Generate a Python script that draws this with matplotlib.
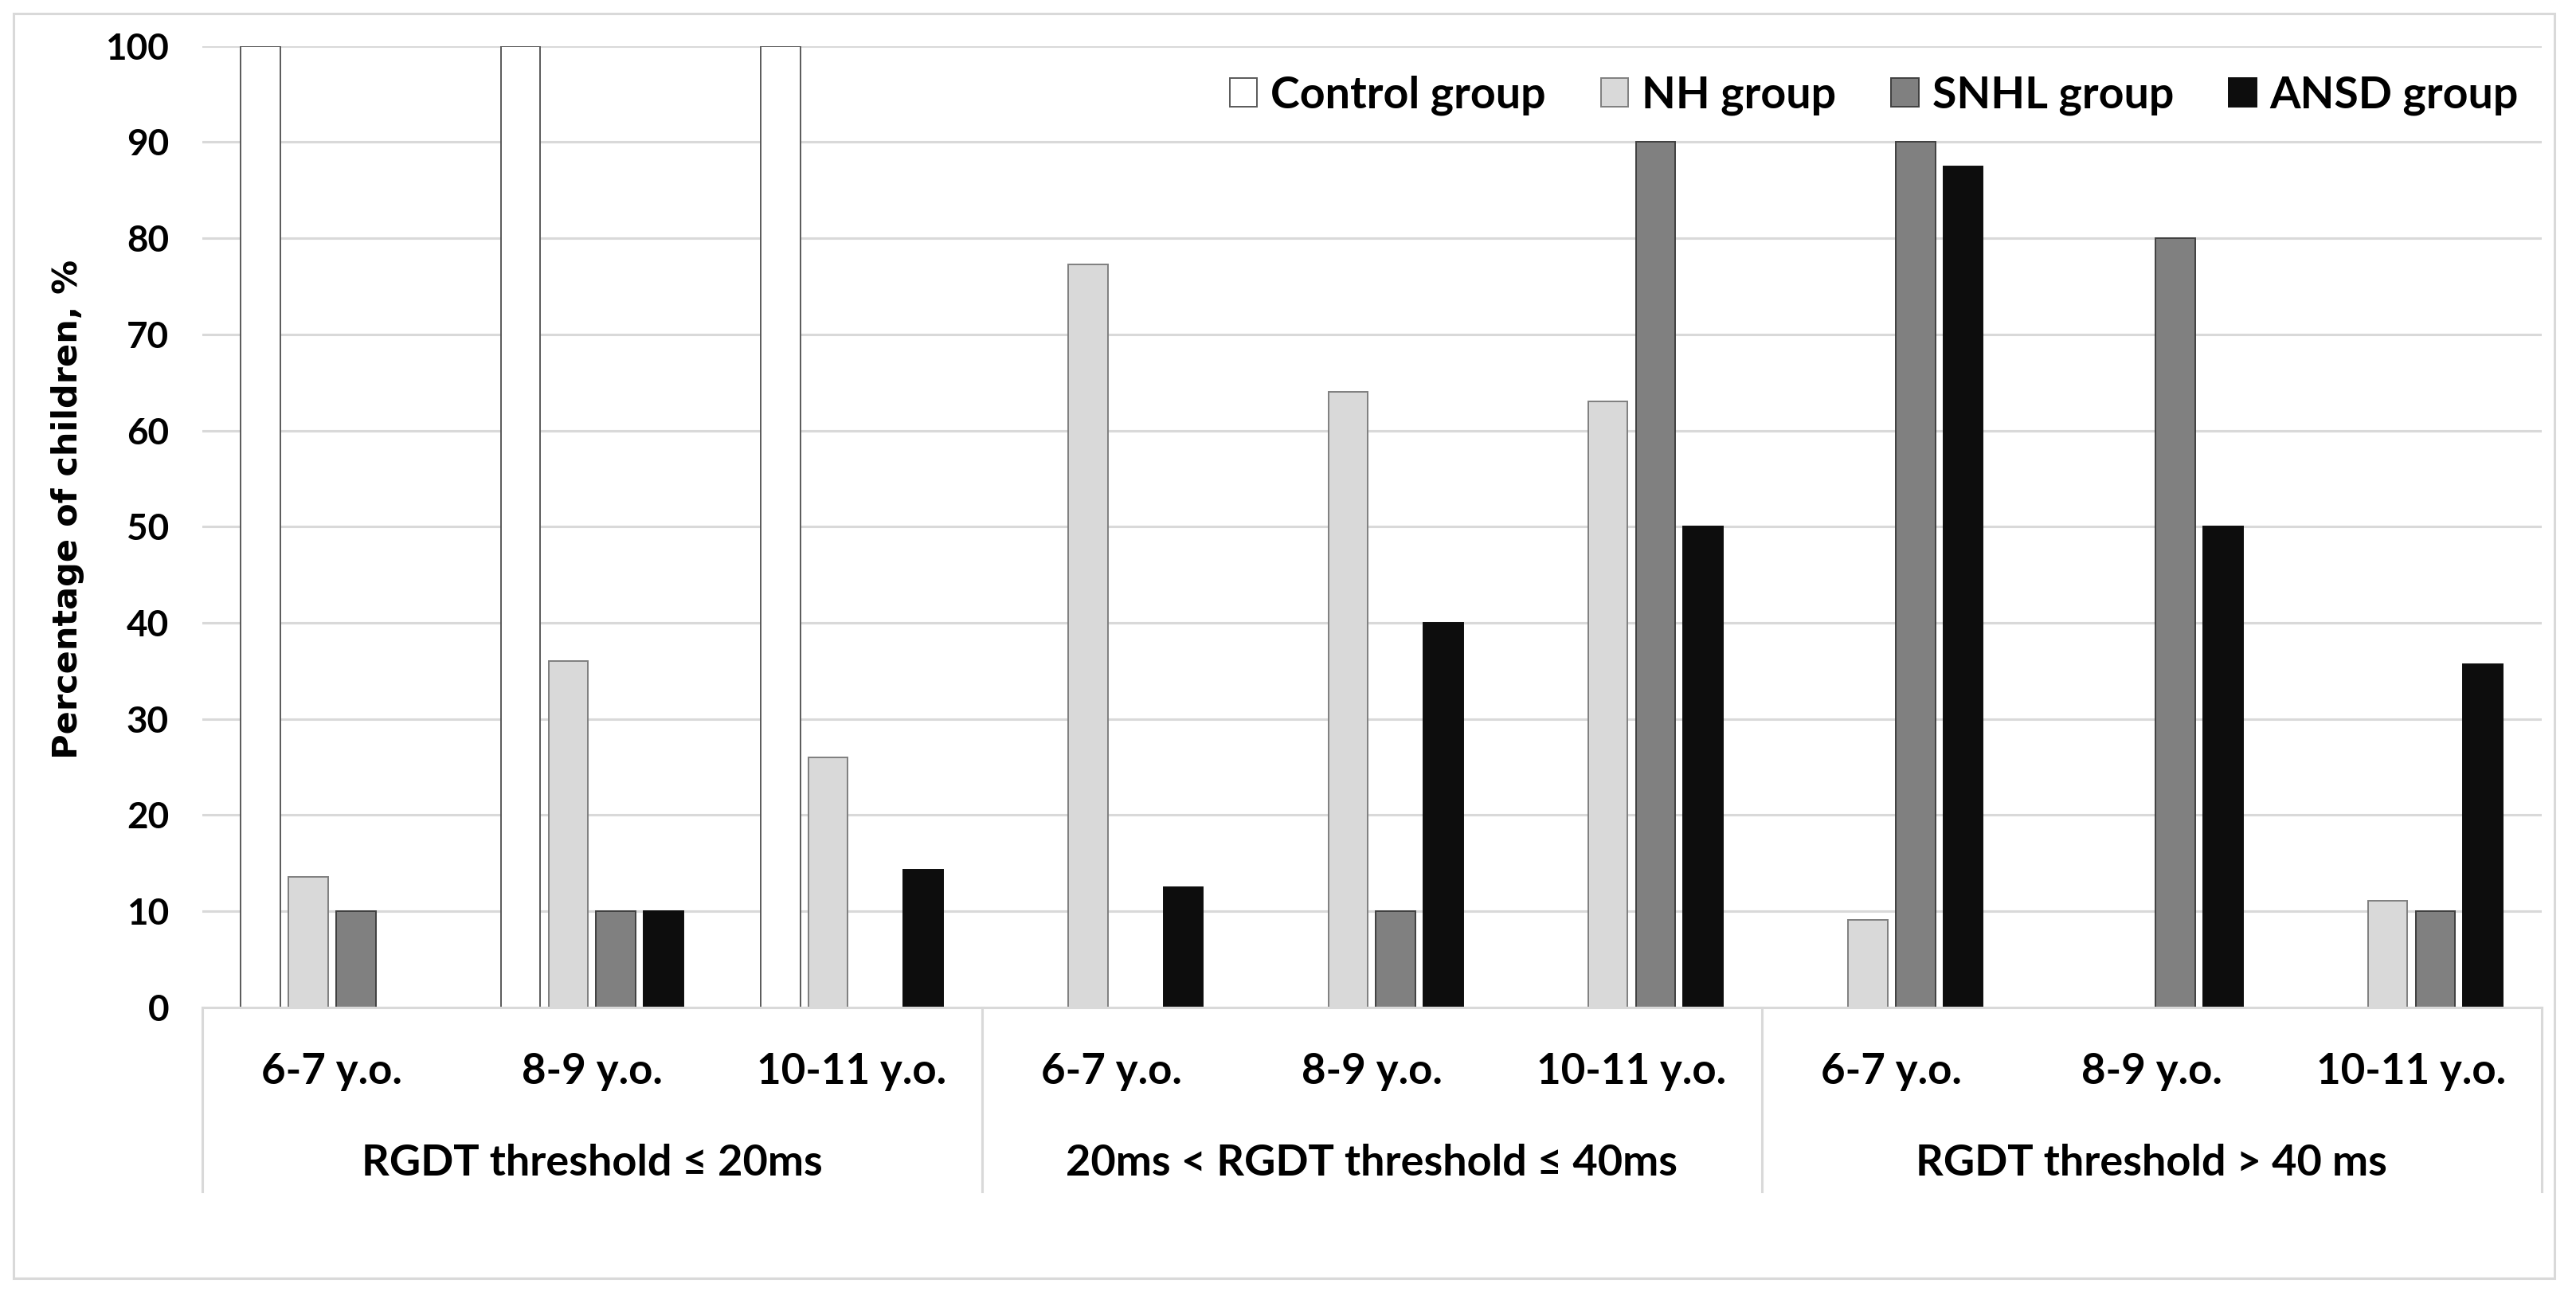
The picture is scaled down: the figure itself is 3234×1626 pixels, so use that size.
import numpy as np
import matplotlib
matplotlib.use("Agg")
import matplotlib.pyplot as plt
from matplotlib.patches import Patch, Rectangle
from matplotlib.lines import Line2D

plt.rcParams['font.family'] = ['Lato', 'DejaVu Sans']
plt.rcParams['font.weight'] = 'bold'

age_labels = ["6-7 y.o.", "8-9 y.o.", "10-11 y.o."] * 3
group_labels = ["RGDT threshold \u2264 20ms", "20ms < RGDT threshold \u2264 40ms", "RGDT threshold > 40 ms"]
series_names = ["Control group", "NH group", "SNHL group", "ANSD group"]

control = [100, 100, 100, 0, 0, 0, 0, 0, 0]
nh = [13.6, 36, 26, 77.3, 64, 63, 9.1, 0, 11.1]
snhl = [10, 10, 0, 0, 10, 90, 90, 80, 10]
ansd = [0, 10, 14.3, 12.5, 40, 50, 87.5, 50, 35.7]

series = [control, nh, snhl, ansd]
faces = ["#FFFFFF", "#D9D9D9", "#808080", "#0D0D0D"]
edges = ["#595959", "#7F7F7F", "#404040", "#0D0D0D"]

W, H = 3234, 1626
fig = plt.figure(figsize=(W / 100, H / 100), dpi=100)

ax_l, ax_r = 123 / 1568, 1547 / 1568
ax_t, ax_b = 1 - 28 / 788, 1 - 613 / 788
ax = fig.add_axes([ax_l, ax_b, ax_r - ax_l, ax_t - ax_b])

x = np.arange(len(age_labels))
step = 29 / 158.2
width = 24 / 158.2
for k, (vals, fc, ec) in enumerate(zip(series, faces, edges)):
    v = np.array(vals, dtype=float)
    v = np.where(v > 0, v, np.nan)
    ax.bar(x + (k - 1.5) * step, v, width=width, color=fc, edgecolor=ec,
           linewidth=1.4, zorder=3)

ax.set_xlim(-0.5, len(age_labels) - 0.5)
ax.set_ylim(0, 100)
ax.set_yticks(np.arange(0, 101, 10))
ax.yaxis.grid(True, color="#D9D9D9", linewidth=2.2, zorder=0)
ax.set_axisbelow(True)
for s in ["left", "right", "top"]:
    ax.spines[s].set_visible(False)
ax.spines["bottom"].set_color("#D9D9D9")
ax.spines["bottom"].set_linewidth(2.2)
ax.spines["bottom"].set_zorder(4)
ax.tick_params(axis="y", length=0, labelsize=33, pad=30)
ax.tick_params(axis="x", length=0)
ax.set_xticks([])
for lab in ax.get_yticklabels():
    lab.set_fontweight("bold")

# y axis title
fig.text(41 / 1568, 1 - 310 / 788, "Percentage of children, %", rotation=90,
         ha="center", va="center", fontsize=31, fontweight="bold",
         family=["DejaVu Sans"])

# category labels
cat_y = 1 - 652 / 788
grp_y = 1 - 708 / 788
for i, lab in enumerate(age_labels):
    xf = ax_l + (i + 0.5) / len(age_labels) * (ax_r - ax_l)
    fig.text(xf, cat_y, lab, ha="center", va="center", fontsize=38, fontweight="bold")
for g, lab in enumerate(group_labels):
    xf = ax_l + (g + 0.5) / 3 * (ax_r - ax_l)
    fig.text(xf, grp_y, lab, ha="center", va="center", fontsize=39, fontweight="bold")

# separators of multi-level axis
sep_bottom = 1 - 725 / 788
for g in range(4):
    xf = ax_l + g / 3 * (ax_r - ax_l)
    fig.add_artist(Line2D([xf, xf], [ax_b, sep_bottom], transform=fig.transFigure,
                          color="#D9D9D9", linewidth=2.2))

# outer border
fig.add_artist(Rectangle((8 / 1568, 1 - 778 / 788), (1555 - 8) / 1568, (778 - 8) / 788,
                         transform=fig.transFigure, fill=False, edgecolor="#D9D9D9",
                         linewidth=2.2))

handles = [Patch(facecolor=fc, edgecolor=ec, linewidth=1.4) for fc, ec in zip(faces, edges)]
leg = fig.legend(handles, series_names, loc="center right", ncol=4,
                 bbox_to_anchor=(1533 / 1568, 1 - 58 / 788), frameon=False,
                 prop={"size": 40, "weight": "bold"}, handlelength=0.62, handleheight=0.62,
                 handletextpad=0.3, columnspacing=1.25, borderaxespad=0,
                 borderpad=0)

fig.savefig("out.png", dpi=100, facecolor="white")
